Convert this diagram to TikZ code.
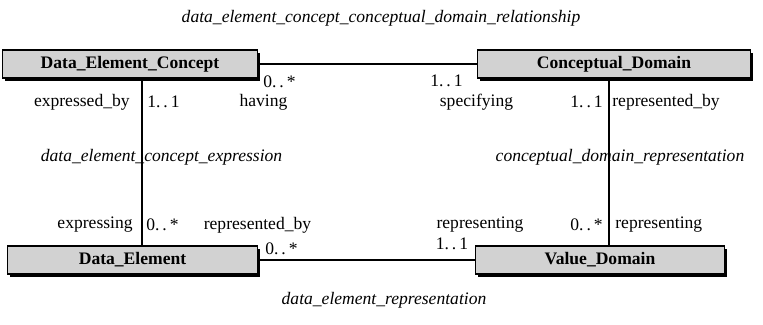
\documentclass[tikz,border=0pt]{standalone}
\usepackage{fontspec}
\setmainfont{Liberation Serif}
\usetikzlibrary{shadows}
\tikzset{cls/.style={draw, line width=1.1pt, fill=gray!35, minimum width=#1, minimum height=0.56cm, inner sep=0pt, font=\bfseries\fontsize{10}{12}\selectfont, drop shadow={shadow xshift=1.6pt, shadow yshift=-1.6pt, fill=black, opacity=1}},
lbl/.style={inner sep=0pt, font=\fontsize{10}{12}\selectfont},
rel/.style={inner sep=0pt, font=\itshape\fontsize{10}{12}\selectfont}}
\begin{document}
\begin{tikzpicture}
\useasboundingbox (0,0) rectangle (15.26,6.5);
\node[cls=5.10cm] (dec) at (2.60,5.22) {Data\_Element\_Concept};
\node[cls=5.46cm] (cd) at (12.28,5.22) {Conceptual\_Domain};
\node[cls=5.00cm] (de) at (2.65,1.30) {Data\_Element};
\node[cls=4.98cm] (vd) at (12.00,1.30) {Value\_Domain};
\coordinate (lx) at (2.84,0);
\coordinate (rx) at (12.18,0);
\draw [semithick] (dec.east) -- (cd.west);
\draw [semithick] (de.east) -- (vd.west);
\draw [semithick] (dec.south -| lx) -- (de.north -| lx);
\draw [semithick] (cd.south -| rx) -- (vd.north -| rx);
\node[rel] (t1) at (7.62,6.14) {data\_element\_concept\_conceptual\_domain\_relationship};
\node[rel] (t2) at (7.68,0.50) {data\_element\_representation};
\node[rel] (t3) at (3.23,3.36) {data\_element\_concept\_expression};
\node[rel] (t4) at (12.40,3.36) {conceptual\_domain\_representation};
\node[lbl, anchor=west] (m1) at (5.26,4.86) {0.\,.\,*};
\node[lbl] (r1) at (5.27,4.46) {having};
\node[lbl, anchor=east] (r2) at (2.60,4.46) {expressed\_by};
\node[lbl, anchor=west] (m2) at (2.94,4.46) {1.\,.\,1};
\node[lbl] (m3) at (8.93,4.88) {1.\,.\,1};
\node[lbl] (r3) at (9.53,4.46) {specifying};
\node[lbl, anchor=east] (m4) at (12.06,4.46) {1.\,.\,1};
\node[lbl, anchor=west] (r4) at (12.24,4.46) {represented\_by};
\node[lbl, anchor=east] (r5) at (2.66,2.00) {expressing};
\node[lbl, anchor=west] (m5) at (2.92,2.00) {0.\,.\,*};
\node[lbl] (r6) at (5.15,2.00) {represented\_by};
\node[lbl, anchor=west] (m6) at (5.30,1.52) {0.\,.\,*};
\node[lbl] (r7) at (9.60,2.00) {representing};
\node[lbl, anchor=east] (m7) at (12.06,2.00) {0.\,.\,*};
\node[lbl, anchor=west] (r8) at (12.30,2.00) {representing};
\node[lbl] (m8) at (9.04,1.62) {1.\,.\,1};
\end{tikzpicture}
\end{document}
